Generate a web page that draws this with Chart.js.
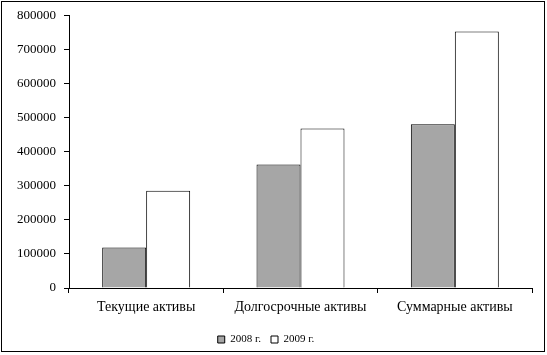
<!DOCTYPE html>
<html>
<head>
<meta charset="utf-8">
<script src="https://cdn.jsdelivr.net/npm/chart.js@4/dist/chart.umd.min.js"></script>
<style>
html,body{margin:0;padding:0;background:#fff;}
#wrap{position:relative;width:547px;height:355px;}
</style>
</head>
<body>
<div id="wrap"><canvas id="c" width="547" height="355"></canvas></div>
<script>
const categories = ["Текущие активы", "Долгосрочные активы", "Суммарные активы"];
const series2008 = [119000, 363000, 481000];
const series2009 = [286000, 469000, 754000];
const seriesNames = ["2008 г.", "2009 г."];
const yTicks = [0, 100000, 200000, 300000, 400000, 500000, 600000, 700000, 800000];

const borderPlugin = {
  id: 'outerBorder',
  afterDraw(chart) {
    const ctx = chart.ctx;
    ctx.save();
    ctx.strokeStyle = '#000';
    ctx.lineWidth = 1;
    ctx.strokeRect(1.5, 1.5, 543, 350);
    ctx.restore();
  }
};

new Chart(document.getElementById('c'), {
  type: 'bar',
  data: {
    labels: categories,
    datasets: [
      { label: seriesNames[0], data: series2008, backgroundColor: '#a6a6a6', borderColor: '#000', borderWidth: 1 },
      { label: seriesNames[1], data: series2009, backgroundColor: '#ffffff', borderColor: '#000', borderWidth: 1 }
    ]
  },
  options: {
    responsive: false,
    animation: false,
    devicePixelRatio: 1,
    layout: { padding: { left: 0, right: 15, top: 14, bottom: 0 } },
    datasets: { bar: { categoryPercentage: 0.57, barPercentage: 1.0 } },
    plugins: {
      legend: {
        position: 'bottom',
        labels: {
          color: '#000',
          font: { family: 'Liberation Serif', size: 11 },
          boxWidth: 7, boxHeight: 7, padding: 10
        }
      },
      tooltip: { enabled: false }
    },
    scales: {
      x: {
        offset: true,
        grid: { display: true, offset: true, drawOnChartArea: false, tickLength: 5, color: '#000' },
        border: { display: true, color: '#000', width: 1 },
        ticks: { color: '#000', font: { family: 'Liberation Serif', size: 14 }, padding: 6, maxRotation: 0 },
        afterFit(s) { s.height = 36; }
      },
      y: {
        min: 0, max: 800000,
        afterBuildTicks(s) { s.ticks = yTicks.map(v => ({ value: v })); },
        grid: { display: true, drawOnChartArea: false, tickLength: 5, color: '#000' },
        border: { display: true, color: '#000', width: 1 },
        ticks: { color: '#000', font: { family: 'Liberation Serif', size: 13 }, padding: 8, callback: v => String(v) },
        afterFit(s) { s.width = 69; }
      }
    }
  },
  plugins: [borderPlugin]
});
</script>
</body>
</html>
